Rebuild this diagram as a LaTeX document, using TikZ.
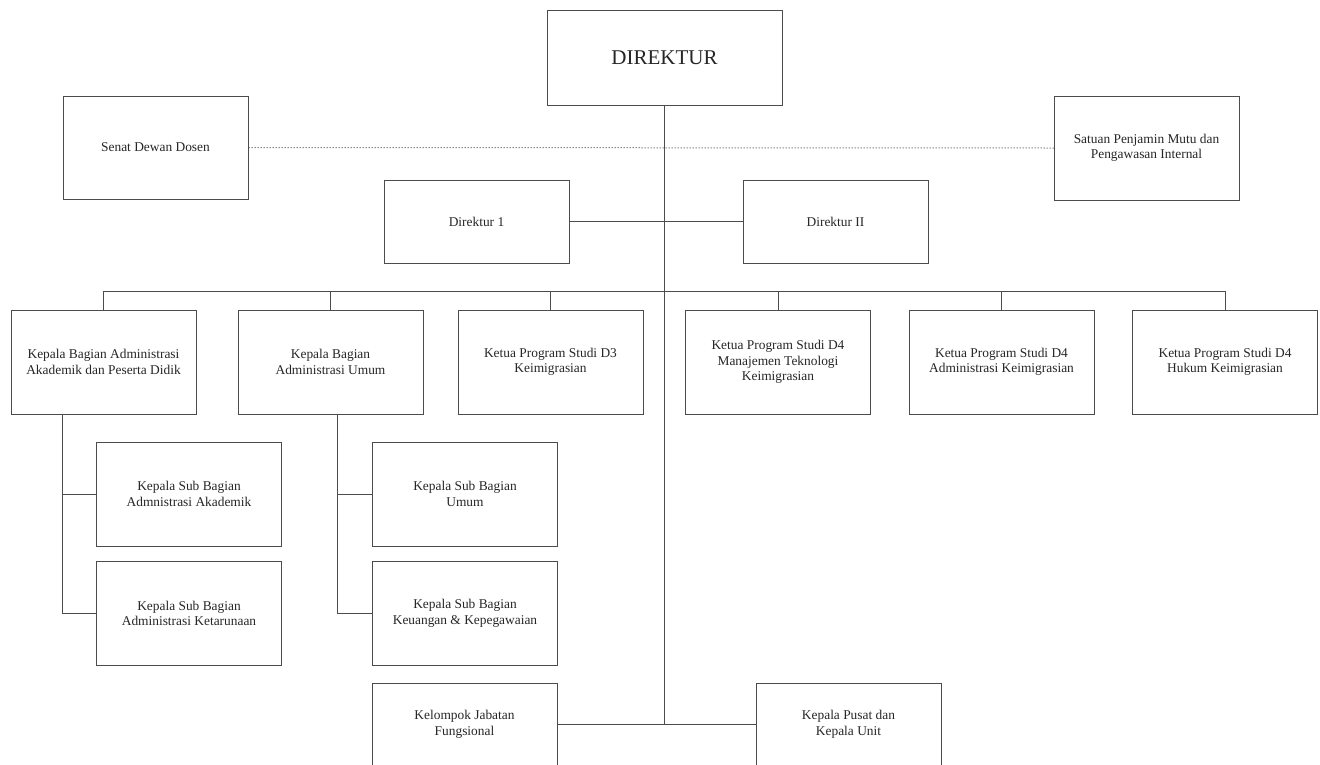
\documentclass[tikz,border=0pt]{standalone}
\usepackage{fontspec}
\setmainfont{Liberation Serif}
\usetikzlibrary{calc}

\begin{document}
\begin{tikzpicture}[x=1pt, y=-1pt,
    box/.style={draw=black!70, line width=1pt, fill=white, inner sep=0pt, align=center,
                minimum width=185pt, minimum height=104pt, text=black!85,
                font=\fontsize{13.4}{15.5}\selectfont},
    link/.style={draw=black!70, line width=1pt}]
    \clip (0,0) rectangle (1320,764);
    \node [box, minimum width=235pt, minimum height=95pt, font=\fontsize{21}{24}\selectfont] (dir) at (664.5,57.5) {DIREKTUR};
    \node [box, minimum height=103pt] (senat) at (155.5,147.5) {Senat Dewan Dosen};
    \node [box] (spmi) at (1146.5,148) {Satuan Penjamin Mutu dan\\Pengawasan Internal};
    \node [box, minimum height=83pt] (dir1) at (476.5,221.5) {Direktur 1};
    \node [box, minimum height=83pt] (dir2) at (835.5,221.5) {Direktur II};
    \node [box] (kbaak) at (103.5,362) {Kepala Bagian Administrasi\\Akademik dan Peserta Didik};
    \node [box] (kbau)  at (330.5,362) {Kepala Bagian\\Administrasi Umum};
    \node [box] (ps3)   at (550.5,362) {Ketua Program Studi D3\\Keimigrasian};
    \node [box] (ps4m)  at (778,362)   {Ketua Program Studi D4\\Manajemen Teknologi\\Keimigrasian};
    \node [box] (ps4a)  at (1001.5,362) {Ketua Program Studi D4\\Administrasi Keimigrasian};
    \node [box] (ps4h)  at (1225,362)  {Ketua Program Studi D4\\Hukum Keimigrasian};
    \node [box] (ksbaa) at (189,494)   {Kepala Sub Bagian\\Admnistrasi Akademik};
    \node [box] (ksbak) at (189,613.5) {Kepala Sub Bagian\\Administrasi Ketarunaan};
    \node [box] (ksbu)  at (465,494)   {Kepala Sub Bagian\\Umum};
    \node [box] (ksbkk) at (465,613.5) {Kepala Sub Bagian\\Keuangan \& Kepegawaian};
    \node [box, minimum height=83pt] (kjf)  at (464.5,724.5) {Kelompok Jabatan\\Fungsional};
    \node [box, minimum height=83pt] (kpku) at (848.5,724.5) {Kepala Pusat dan\\Kepala Unit};
    \coordinate (bus) at (664.5,291);
    \coordinate (t1) at (62,414);
    \coordinate (t2) at (337,414);
    \draw [link, dotted] (senat.east) -- (spmi.west);
    \draw [link] (dir.south) -- (dir.south |- kjf.east);
    \draw [link] (dir1.east) -- (dir2.west);
    \draw [link] (kjf.east) -- (kpku.west);
    \draw [link] (kbaak.north |- bus) -- (ps4h.north |- bus);
    \foreach \n in {kbaak, kbau, ps3, ps4m, ps4a, ps4h}
        \draw [link] (\n.north) -- (\n.north |- bus);
    \draw [link] (t1) |- (ksbaa.west) (t1) |- (ksbak.west);
    \draw [link] (t2) |- (ksbu.west) (t2) |- (ksbkk.west);
\end{tikzpicture}
\end{document}
